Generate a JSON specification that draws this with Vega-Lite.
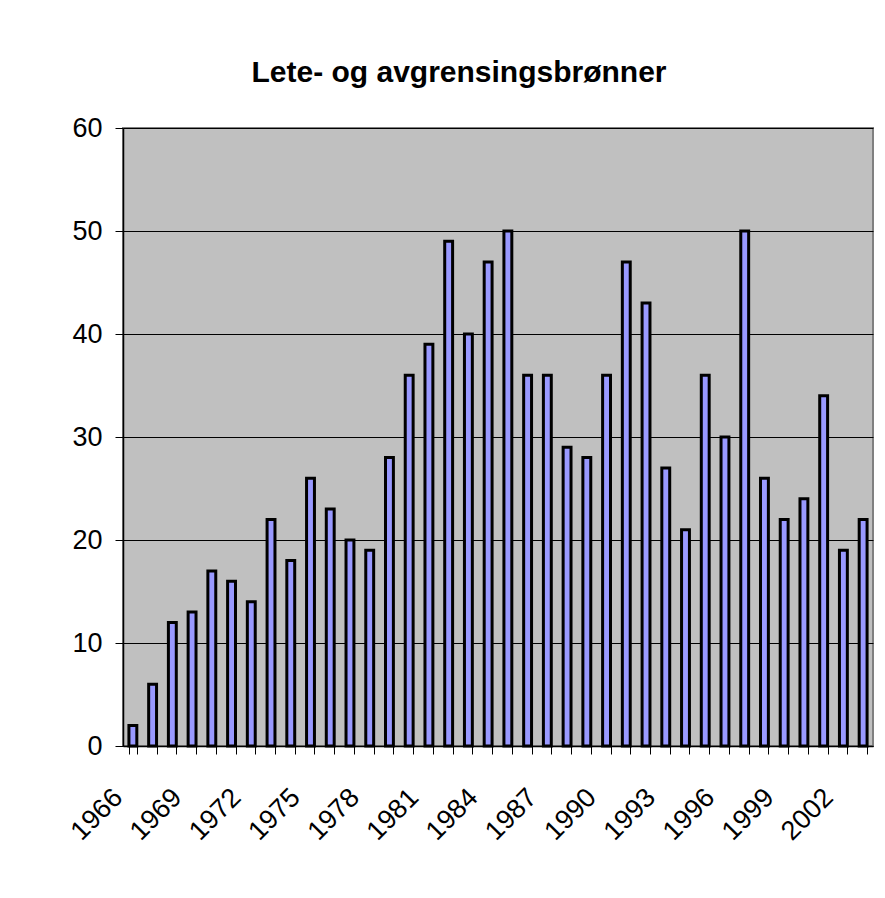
{
  "$schema": "https://vega.github.io/schema/vega-lite/v6.json",
  "autosize": {"type": "none"},
  "width": 750,
  "height": 618,
  "padding": {"left": 123, "top": 128, "right": 12, "bottom": 152},
  "background": "white",
  "title": {
    "text": "Lete- og avgrensingsbrønner",
    "fontSize": 30,
    "fontWeight": "bold",
    "font": "Liberation Sans",
    "color": "black",
    "anchor": "middle",
    "baseline": "alphabetic",
    "offset": 45,
    "dx": -39,
    "dy": 43
  },
  "data": {
    "values": [
      {"year": "1966", "wells": 2},
      {"year": "1967", "wells": 6},
      {"year": "1968", "wells": 12},
      {"year": "1969", "wells": 13},
      {"year": "1970", "wells": 17},
      {"year": "1971", "wells": 16},
      {"year": "1972", "wells": 14},
      {"year": "1973", "wells": 22},
      {"year": "1974", "wells": 18},
      {"year": "1975", "wells": 26},
      {"year": "1976", "wells": 23},
      {"year": "1977", "wells": 20},
      {"year": "1978", "wells": 19},
      {"year": "1979", "wells": 28},
      {"year": "1980", "wells": 36},
      {"year": "1981", "wells": 39},
      {"year": "1982", "wells": 49},
      {"year": "1983", "wells": 40},
      {"year": "1984", "wells": 47},
      {"year": "1985", "wells": 50},
      {"year": "1986", "wells": 36},
      {"year": "1987", "wells": 36},
      {"year": "1988", "wells": 29},
      {"year": "1989", "wells": 28},
      {"year": "1990", "wells": 36},
      {"year": "1991", "wells": 47},
      {"year": "1992", "wells": 43},
      {"year": "1993", "wells": 27},
      {"year": "1994", "wells": 21},
      {"year": "1995", "wells": 36},
      {"year": "1996", "wells": 30},
      {"year": "1997", "wells": 50},
      {"year": "1998", "wells": 26},
      {"year": "1999", "wells": 22},
      {"year": "2000", "wells": 24},
      {"year": "2001", "wells": 34},
      {"year": "2002", "wells": 19},
      {"year": "2003", "wells": 22}
    ]
  },
  "mark": {"type": "bar", "fill": "#9999FF", "stroke": "black", "strokeWidth": 3},
  "encoding": {
    "x": {
      "field": "year",
      "type": "ordinal",
      "scale": {"paddingInner": 0.6, "paddingOuter": 0.3},
      "axis": {
        "title": null,
        "tickBand": "extent",
        "tickSize": 8,
        "tickColor": "black",
        "domainColor": "black",
        "domainWidth": 1.5,
        "labelAngle": -45,
        "labelAlign": "right",
        "labelBaseline": "middle",
        "labelPadding": 39,
        "labelOffset": -15,
        "labelFontSize": 27,
        "labelFont": "Liberation Sans",
        "labelColor": "black",
        "labelOverlap": false,
        "labelBound": false,
        "labelExpr": "(toNumber(datum.value) - 1966) % 3 == 0 ? datum.value : ''"
      }
    },
    "y": {
      "field": "wells",
      "type": "quantitative",
      "scale": {"domain": [0, 60], "nice": false},
      "axis": {
        "title": null,
        "values": [0, 10, 20, 30, 40, 50, 60],
        "tickSize": 8,
        "tickColor": "black",
        "domainColor": "black",
        "domainWidth": 1.5,
        "grid": true,
        "gridColor": "black",
        "gridWidth": 1,
        "gridOpacity": 1,
        "labelPadding": 13,
        "labelFontSize": 27,
        "labelFont": "Liberation Sans",
        "labelColor": "black"
      }
    }
  },
  "config": {
    "font": "Liberation Sans",
    "view": {"fill": "#C0C0C0", "stroke": "#808080", "strokeWidth": 2}
  }
}
